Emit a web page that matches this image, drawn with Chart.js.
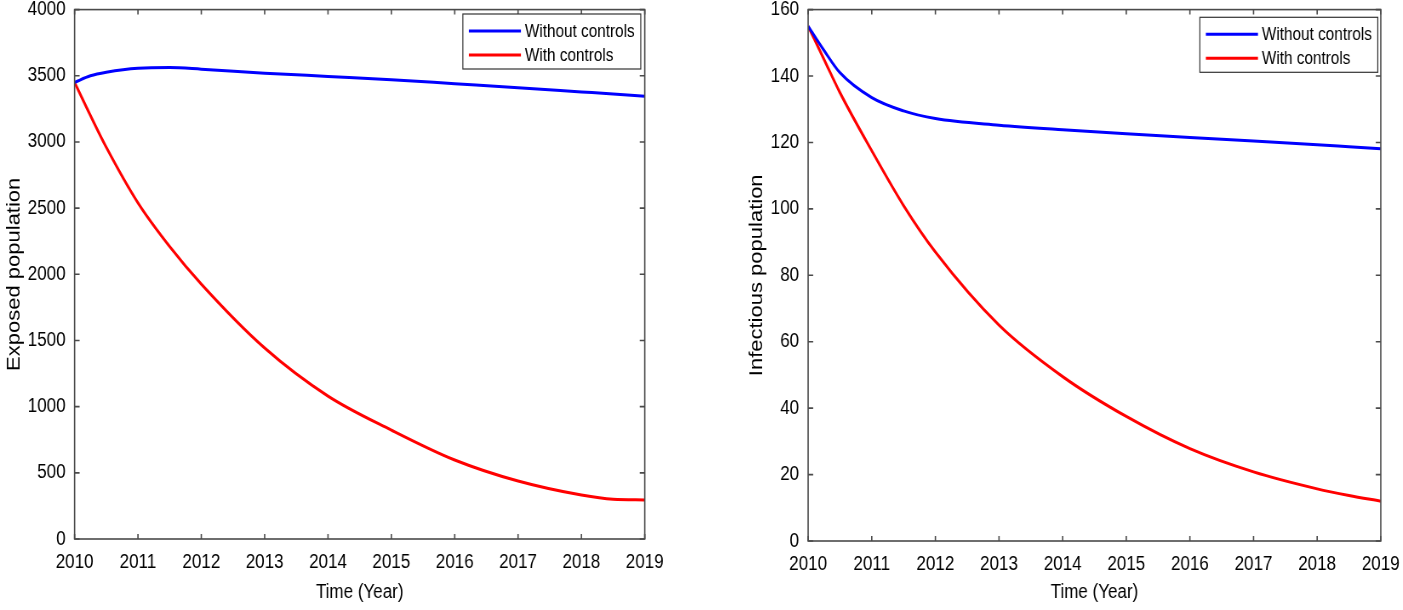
<!DOCTYPE html>
<html>
<head>
<meta charset="utf-8">
<script src="https://cdn.jsdelivr.net/npm/chart.js@4.4.1/dist/chart.umd.min.js"></script>
<style>
  html, body { margin: 0; background: #fff; overflow: hidden; width: 1403px; height: 610px; }
  /* the source figure is squeezed sideways, so draw wide and squeeze */
  .box { position: absolute; top: -13px; height: 623px; transform: scaleX(0.85); transform-origin: 0 0; }
  #left { left: 0; width: 823.5px; }
  #right { left: 700px; width: 858.8px; }
</style>
</head>
<body>
<div class="box" id="left"><canvas id="exposedChart"></canvas></div>
<div class="box" id="right"><canvas id="infectiousChart"></canvas></div>
<script>
// values (time in years)
const years = [2010, 2010.25, 2010.5, 2011, 2011.5, 2012, 2013, 2014, 2015, 2016, 2017, 2018, 2018.5, 2019];
const exposedWithout = [3450, 3500, 3527, 3557, 3562, 3550, 3520, 3495, 3470, 3440, 3410, 3378, 3362, 3345];
const exposedWith = [3450, 3200, 2960, 2540, 2210, 1926, 1443, 1080, 823, 597, 438, 332, 300, 295];
const infectiousWithout = [155, 147.7, 141, 133.5, 129.5, 127.2, 125.2, 123.8, 122.6, 121.5, 120.4, 119.3, 118.7, 118.1];
const infectiousWith = [155, 145, 135, 117.5, 101, 87, 65, 49.5, 37.5, 27.8, 20.8, 15.7, 13.7, 12];
const seriesLabels = ['Without controls', 'With controls'];
const seriesColors = ['#0000ff', '#ff0000'];

const SQ = 0.85; // horizontal squeeze of the boxes (see css)

Chart.defaults.font.family = '"Liberation Sans", Arial, sans-serif';
Chart.defaults.color = '#000';

const axisColor = '#4a4a4a';

// MATLAB style box with inward ticks on all four sides
const framePlugin = {
  id: 'frame',
  afterDatasetsDraw(chart) {
    const { ctx, chartArea: a, scales } = chart;
    const tl = 5, tw = 5 / SQ;
    ctx.save();
    ctx.strokeStyle = axisColor;
    ctx.lineWidth = 1.6;
    ctx.strokeRect(a.left, a.top, a.width, a.height);
    ctx.beginPath();
    scales.x.ticks.forEach(t => {
      const px = scales.x.getPixelForValue(t.value);
      ctx.moveTo(px, a.bottom); ctx.lineTo(px, a.bottom - tl);
      ctx.moveTo(px, a.top); ctx.lineTo(px, a.top + tl);
    });
    scales.y.ticks.forEach(t => {
      const py = scales.y.getPixelForValue(t.value);
      ctx.moveTo(a.left, py); ctx.lineTo(a.left + tw, py);
      ctx.moveTo(a.right, py); ctx.lineTo(a.right - tw, py);
    });
    ctx.stroke();
    ctx.restore();
  }
};

// boxed legend in the top right corner
const boxLegend = {
  id: 'boxLegend',
  afterDraw(chart, args, opts) {
    const { ctx, chartArea: a } = chart;
    ctx.save();
    ctx.font = '18px "Liberation Sans", Arial, sans-serif';
    let tw = 0;
    chart.data.datasets.forEach(ds => { tw = Math.max(tw, ctx.measureText(ds.label).width); });
    const pad = 6 / SQ, len = 52 / SQ, gap = 4 / SQ;
    const w = pad + len + gap + tw + pad;
    const h = 55;
    const x0 = a.right - opts.dx / SQ - w;
    const y0 = a.top + opts.dy;
    ctx.fillStyle = '#fff';
    ctx.fillRect(x0, y0, w, h);
    ctx.strokeStyle = '#333';
    ctx.lineWidth = 1.2;
    ctx.strokeRect(x0, y0, w, h);
    chart.data.datasets.forEach((ds, i) => {
      const y = y0 + 17 + i * 24;
      ctx.strokeStyle = ds.borderColor;
      ctx.lineWidth = 3;
      ctx.beginPath();
      ctx.moveTo(x0 + pad, y);
      ctx.lineTo(x0 + pad + len, y);
      ctx.stroke();
      ctx.fillStyle = '#000';
      ctx.textBaseline = 'middle';
      ctx.fillText(ds.label, x0 + pad + len + gap, y + 1);
    });
    ctx.restore();
  }
};

function makeChart(id, without, withC, yMax, yStep, yTitle, cfg) {
  const ctx = document.getElementById(id);
  new Chart(ctx, {
    type: 'line',
    data: {
      datasets: [
        {
          label: seriesLabels[0],
          data: years.map((y, i) => ({ x: y, y: without[i] })),
          borderColor: seriesColors[0],
          borderWidth: 3,
          pointRadius: 0,
          cubicInterpolationMode: 'monotone',
        },
        {
          label: seriesLabels[1],
          data: years.map((y, i) => ({ x: y, y: withC[i] })),
          borderColor: seriesColors[1],
          borderWidth: 3,
          pointRadius: 0,
          cubicInterpolationMode: 'monotone',
        },
      ],
    },
    options: {
      responsive: true,
      maintainAspectRatio: false,
      animation: false,
      layout: {
        padding: { left: cfg.padLeft / SQ, top: 0, right: cfg.padRight / SQ, bottom: 0 },
      },
      plugins: {
        legend: { display: false },
        tooltip: { enabled: false },
        boxLegend: { dx: cfg.legDx, dy: cfg.legDy },
      },
      scales: {
        x: {
          type: 'linear',
          min: 2010,
          max: 2019,
          grid: { display: false, drawTicks: false },
          border: { display: false },
          ticks: {
            stepSize: 1,
            padding: 11,
            font: { size: 20 },
            callback: v => String(v),
          },
          title: {
            display: true,
            text: 'Time (Year)',
            font: { size: 20 },
            padding: { top: 0, bottom: 6 },
          },
          afterFit: s => { s.height = cfg.xHeight; },
        },
        y: {
          min: 0,
          max: yMax,
          grid: { display: false, drawTicks: false },
          border: { display: false },
          ticks: {
            stepSize: yStep,
            padding: 10.6,
            font: { size: 20 },
            callback: v => String(v),
          },
          title: {
            display: true,
            text: yTitle,
            font: { size: 22 },
            padding: { top: cfg.yTitlePad, bottom: 0 },
          },
          afterFit: s => { s.width = cfg.yWidth / SQ; },
        },
      },
    },
    plugins: [framePlugin, boxLegend],
  });
}

makeChart('exposedChart', exposedWithout, exposedWith, 4000, 500, 'Exposed population',
  { padLeft: 0, padRight: 56, xHeight: 71, yWidth: 74.5, yTitlePad: 3.3, legDx: 4, legDy: 4.4 });
makeChart('infectiousChart', infectiousWithout, infectiousWith, 160, 20, 'Infectious population',
  { padLeft: 35, padRight: 50, xHeight: 69, yWidth: 73, yTitlePad: 12.7, legDx: 3, legDy: 7.7 });
</script>
</body>
</html>
